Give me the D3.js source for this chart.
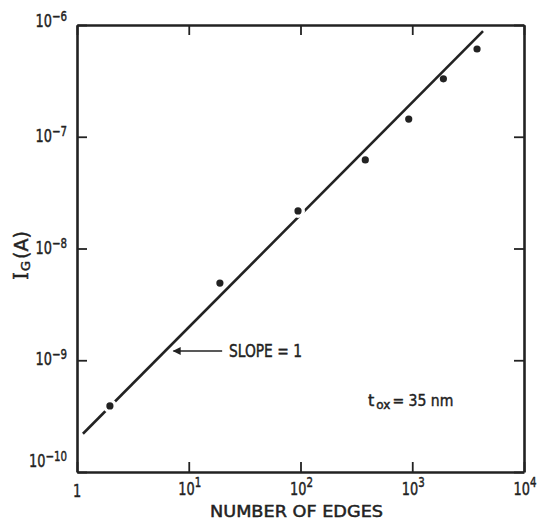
<!DOCTYPE html>
<html>
<head>
<meta charset="utf-8">
<script src="https://cdn.jsdelivr.net/npm/d3@7"></script>
<style>
  html, body { margin: 0; padding: 0; background: #fff; }
  svg { display: block; }
  text { font-family: "DejaVu Sans", sans-serif; fill: #222; stroke: #222; stroke-width: 0.45px; }
</style>
</head>
<body>
<svg id="chart" width="538" height="520"></svg>
<script>
// Gate current versus number of gate edges (log-log)
const edges       = [1.97, 19, 95, 380, 930, 1900, 3800];
const gateCurrent = [3.9e-10, 4.9e-9, 2.17e-8, 6.2e-8, 1.44e-7, 3.3e-7, 6.1e-7];

// Slope-1 reference line, end points
const fitEdges   = [1.13, 4300];
const fitCurrent = [2.2e-10, 8.8e-7];

// Markers where the reference line is interrupted
const lineGapAt = [1.97, 95];

const xTickValues    = [1, 10, 100, 1000, 10000];
const xTickExponents = ["", "1", "2", "3", "4"];
const yTickValues    = [1e-10, 1e-9, 1e-8, 1e-7, 1e-6];
const yTickExponents = ["\u221210", "\u22129", "\u22128", "\u22127", "\u22126"];

const xTitle    = "NUMBER OF EDGES";
const slopeNote = "SLOPE = 1";
const oxideNote = "= 35 nm";

const W = 538, H = 520;
const margin = { top: 25, right: 14, bottom: 48, left: 77 };
const ink = "#222";

const svg = d3.select("#chart");

const x = d3.scaleLog().domain([1, 1e4]).range([margin.left, W - margin.right]);
const y = d3.scaleLog().domain([1e-10, 1e-6]).range([H - margin.bottom, margin.top]);

const x0 = x.range()[0], x1 = x.range()[1];
const y0 = y.range()[0], y1 = y.range()[1];

// Frame with inward ticks on all four sides
function styleAxis(g) {
  g.selectAll("text").remove();
  g.select(".domain").attr("stroke", ink).attr("stroke-width", 2.6);
  g.selectAll(".tick line").attr("stroke", ink).attr("stroke-width", 1.8);
}
const tick = 10;
svg.append("g").attr("transform", `translate(0,${y0})`)
  .call(d3.axisBottom(x).tickValues(xTickValues).tickSizeInner(-tick).tickSizeOuter(0).tickFormat(""))
  .call(styleAxis);
svg.append("g").attr("transform", `translate(0,${y1})`)
  .call(d3.axisTop(x).tickValues(xTickValues).tickSizeInner(-tick).tickSizeOuter(0).tickFormat(""))
  .call(styleAxis);
svg.append("g").attr("transform", `translate(${x0},0)`)
  .call(d3.axisLeft(y).tickValues(yTickValues).tickSizeInner(-tick).tickSizeOuter(0).tickFormat(""))
  .call(styleAxis);
svg.append("g").attr("transform", `translate(${x1},0)`)
  .call(d3.axisRight(y).tickValues(yTickValues).tickSizeInner(-tick).tickSizeOuter(0).tickFormat(""))
  .call(styleAxis);

// Power-of-ten labels, drawn slightly condensed
function powerLabel(px, py, exp, anchor, supDy) {
  const g = svg.append("g").attr("transform", `translate(${px},${py}) scale(0.76,1)`);
  const t = g.append("text").attr("text-anchor", anchor).attr("font-size", 17);
  if (exp === "") { t.text("1"); return; }
  t.append("tspan").text("10");
  t.append("tspan").attr("font-size", 13.5).attr("dy", supDy).text(exp);
}

xTickValues.forEach((v, i) => {
  powerLabel(x(v) + (i === 0 ? 0 : 1), y0 + (i === 0 ? 25 : 23), xTickExponents[i], "middle", -8);
});
yTickValues.forEach((v, i) => {
  const last = yTickValues.length - 1;
  const dy = i === 0 ? -5 : (i === last ? 2 : 5);
  powerLabel(x0 - 10, y(v) + dy, yTickExponents[i], "end", -6);
});

// Axis titles
svg.append("text")
  .attr("x", (x0 + x1) / 2 - 4).attr("y", H - 3)
  .attr("text-anchor", "middle").attr("font-size", 15)
  .attr("textLength", 173).attr("lengthAdjust", "spacingAndGlyphs")
  .text(xTitle);

const yt = svg.append("text")
  .attr("transform", `translate(28,${(y0 + y1) / 2 + 7}) rotate(-90)`)
  .attr("text-anchor", "middle").attr("font-size", 19);
yt.append("tspan").attr("font-family", "DejaVu Serif, serif").attr("font-size", 20).text("I");
yt.append("tspan").attr("font-size", 13).attr("dy", 2).attr("dx", 1).text("G");
yt.append("tspan").attr("dy", -2).attr("dx", 2).text("(A)");

// Slope-1 reference line
const fitPts = fitEdges.map((n, i) => [n, fitCurrent[i]]);
svg.append("path")
  .datum(fitPts)
  .attr("fill", "none").attr("stroke", ink).attr("stroke-width", 2.6)
  .attr("d", d3.line().x(d => x(d[0])).y(d => y(d[1])));

// Measured points
const pts = edges.map((n, i) => ({ n, i: gateCurrent[i] }));
svg.append("g").selectAll("circle")
  .data(pts.filter(d => lineGapAt.includes(d.n)))
  .join("circle")
  .attr("cx", d => x(d.n)).attr("cy", d => y(d.i)).attr("r", 7)
  .attr("fill", "#fff");
svg.append("g").selectAll("circle")
  .data(pts)
  .join("circle")
  .attr("cx", d => x(d.n)).attr("cy", d => y(d.i)).attr("r", 3.6)
  .attr("fill", ink);

// Slope annotation with arrow pointing at the line
const arrowTip = [7.3, 1.21e-9];
const arrowTail = [19.9, 1.21e-9];
svg.append("defs").append("marker")
  .attr("id", "head").attr("viewBox", "0 0 10 10")
  .attr("refX", 9).attr("refY", 5)
  .attr("markerWidth", 7).attr("markerHeight", 5).attr("orient", "auto")
  .append("path").attr("d", "M0,0L10,5L0,10Z").attr("fill", ink);
svg.append("line")
  .attr("x1", x(arrowTail[0])).attr("y1", y(arrowTail[1]))
  .attr("x2", x(arrowTip[0])).attr("y2", y(arrowTip[1]))
  .attr("stroke", ink).attr("stroke-width", 1.6)
  .attr("marker-end", "url(#head)");

const slopeAt = [22.9, 1.07e-9];
svg.append("text")
  .attr("x", x(slopeAt[0])).attr("y", y(slopeAt[1]))
  .attr("font-size", 17)
  .attr("textLength", 73).attr("lengthAdjust", "spacingAndGlyphs")
  .text(slopeNote);

// Oxide thickness note
const oxAt = [402, 3.9e-10];
const ox = svg.append("text")
  .attr("x", x(oxAt[0])).attr("y", y(oxAt[1]))
  .attr("font-size", 16);
ox.append("tspan").text("t");
ox.append("tspan").attr("font-size", 12).attr("dy", 3).attr("dx", 2).text("ox");
ox.append("tspan").attr("dy", -3).attr("dx", 2)
  .attr("textLength", 61).attr("lengthAdjust", "spacingAndGlyphs").text(oxideNote);
</script>
</body>
</html>
